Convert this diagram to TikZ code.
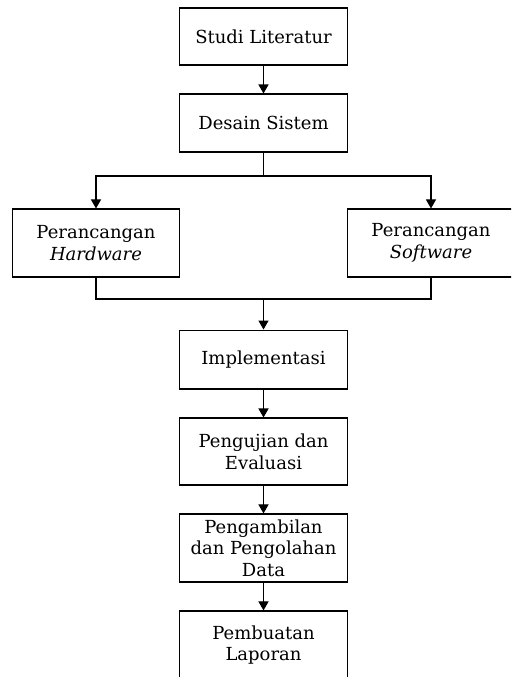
\documentclass[tikz,border=0pt]{standalone}
\usepackage{fontspec}
\setmainfont{DejaVu Serif}
\usetikzlibrary{arrows.meta}

\begin{document}
\begin{tikzpicture}[x = 0.645pt, y = -0.645pt, line width = 0.7pt,
		box/.style = {draw, align = center, minimum width = 108pt, inner sep = 1pt,
			font = \fontsize{11.6}{14}\selectfont},
		arr/.style = {-{Triangle[length = 5.8pt, width = 6.5pt]}}]
		\path [use as bounding box, clip] (0, 0) rectangle (511, 677);
		%%%%%%%%%%%%%
		\node [box, minimum height = 36.8pt] (studi) at (263.5, 36.5) {Studi Literatur};
		\node [box, minimum height = 37.4pt] (desain) at (263.5, 123) {Desain Sistem};
		\node [box, minimum height = 43.9pt] (hw) at (96, 243) {Perancangan\\ \textit{Hardware}};
		\node [box, minimum height = 43.9pt] (sw) at (431, 243) {Perancangan\\ \textit{Software}};
		\node [box, minimum height = 38pt] (impl) at (263.5, 359.5) {Implementasi};
		\node [box, minimum height = 43.2pt] (uji) at (263.5, 451.5) {Pengujian dan\\ Evaluasi};
		\node [box, minimum height = 43.9pt] (ambil) at (263.5, 548) {Pengambilan\\ dan Pengolahan\\ Data};
		\node [box, minimum height = 43.9pt] (lapor) at (263.5, 645) {Pembuatan\\ Laporan};
		\coordinate (split) at (263.5, 176);
		\coordinate (join) at (263.5, 299);
		%%%%%%%%%%%%%
		\draw [arr] (studi) to (desain);
		\draw (desain) to (split);
		\draw [arr] (split) -| (hw); \draw [arr] (split) -| (sw);
		\draw (hw) |- (join); \draw (sw) |- (join);
		\draw [arr] (join) to (impl);
		\draw [arr] (impl) to (uji);
		\draw [arr] (uji) to (ambil);
		\draw [arr] (ambil) to (lapor);
\end{tikzpicture}
\end{document}
